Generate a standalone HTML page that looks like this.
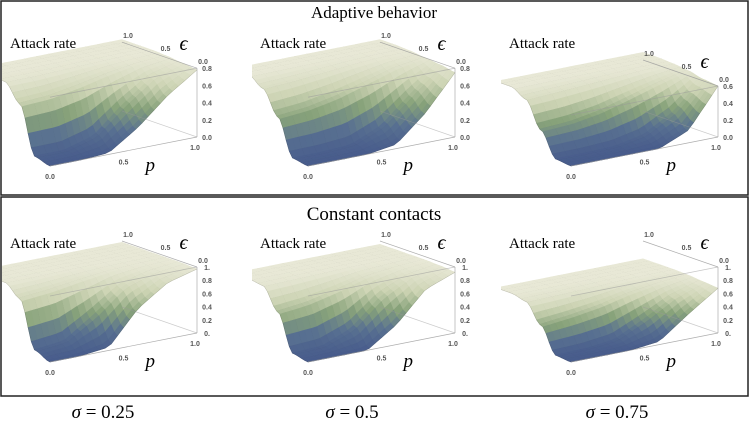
<!DOCTYPE html>
<html><head><meta charset="utf-8"><style>
html,body{margin:0;padding:0;background:#fff;}
svg{display:block;font-family:"Liberation Serif",serif;}
</style></head><body>
<svg id="fig" width="749" height="433" viewBox="0 0 749 433" xmlns="http://www.w3.org/2000/svg">
<rect x="1" y="1" width="747" height="194" fill="none" stroke="#222" stroke-width="1.5"/>
<rect x="1" y="197" width="747" height="199" fill="none" stroke="#222" stroke-width="1.5"/>
<text x="374" y="18" font-size="17" text-anchor="middle">Adaptive behavior</text>
<text x="374" y="220" font-size="19" text-anchor="middle">Constant contacts</text>
<text x="103" y="418" font-size="19" text-anchor="middle"><tspan font-style="italic">σ</tspan> = 0.25</text>
<text x="352" y="418" font-size="19" text-anchor="middle"><tspan font-style="italic">σ</tspan> = 0.5</text>
<text x="617" y="418" font-size="19" text-anchor="middle"><tspan font-style="italic">σ</tspan> = 0.75</text>
<g id="panels"></g>
</svg>
<script>
// grid axes
const pVals = [0, 0.2, 0.4, 0.6, 0.8, 1.0];
const epsVals = [0, 0.2, 0.4, 0.6, 0.8, 1.0];
// attack rate values: rows = epsilon, cols = p
const adaptive025 = [
 [0,0,0.02,0.25,0.55,0.78],
 [0.05,0.05,0.15,0.45,0.7,0.8],
 [0.6,0.62,0.68,0.75,0.8,0.82],
 [0.8,0.8,0.81,0.82,0.83,0.83],
 [0.83,0.83,0.83,0.83,0.83,0.83],
 [0.83,0.83,0.83,0.83,0.83,0.83]];
const adaptive05 = [
 [0,0,0,0.05,0.35,0.75],
 [0.03,0.03,0.05,0.2,0.5,0.78],
 [0.45,0.48,0.55,0.65,0.75,0.8],
 [0.72,0.74,0.77,0.8,0.82,0.82],
 [0.83,0.83,0.83,0.83,0.83,0.83],
 [0.83,0.83,0.83,0.83,0.83,0.83]];
const adaptive075 = [
 [0,0,0,0,0.15,0.6],
 [0.02,0.02,0.03,0.1,0.3,0.62],
 [0.3,0.32,0.38,0.48,0.58,0.66],
 [0.6,0.62,0.64,0.66,0.68,0.68],
 [0.69,0.69,0.69,0.69,0.69,0.69],
 [0.69,0.69,0.69,0.69,0.69,0.69]];
const constant025 = [
 [0,0,0.05,0.55,0.85,0.97],
 [0.1,0.15,0.45,0.8,0.93,0.98],
 [0.8,0.84,0.9,0.95,0.97,0.98],
 [0.97,0.97,0.98,0.98,0.98,0.98],
 [0.98,0.98,0.98,0.98,0.98,0.98],
 [0.98,0.98,0.98,0.98,0.98,0.98]];
const constant05 = [
 [0,0,0,0.3,0.75,0.92],
 [0.05,0.07,0.25,0.65,0.87,0.94],
 [0.6,0.65,0.75,0.87,0.92,0.95],
 [0.92,0.93,0.94,0.95,0.95,0.95],
 [0.95,0.95,0.95,0.95,0.95,0.95],
 [0.95,0.95,0.95,0.95,0.95,0.95]];
const constant075 = [
 [0,0,0,0.05,0.38,0.68],
 [0.02,0.03,0.08,0.3,0.55,0.7],
 [0.4,0.45,0.52,0.62,0.68,0.72],
 [0.68,0.69,0.7,0.72,0.73,0.73],
 [0.73,0.73,0.73,0.73,0.73,0.73],
 [0.73,0.73,0.73,0.73,0.73,0.73]];
const zTicksTop = ["0.0","0.2","0.4","0.6","0.8"];
const zTicksTop3 = ["0.0","0.2","0.4","0.6"];
const zTicksBottom = ["0.","0.2","0.4","0.6","0.8","1."];
const pTicks = ["0.0","0.5","1.0"];
const epsTicks = ["0.0","0.5","1.0"];

const panels = [
 {name:"adaptive-sigma-025", data:adaptive025, ox:50, oy:166, zs:86, zt:zTicksTop, top:true, cx:0},
 {name:"adaptive-sigma-05", data:adaptive05, ox:308, oy:166, zs:86, zt:zTicksTop, top:true, cx:250},
 {name:"adaptive-sigma-075", data:adaptive075, ox:571, oy:166, zs:85, zt:zTicksTop3, top:true, cx:499},
 {name:"constant-sigma-025", data:constant025, ox:50, oy:362, zs:66, zt:zTicksBottom, top:false, cx:0},
 {name:"constant-sigma-05", data:constant05, ox:308, oy:362, zs:66, zt:zTicksBottom, top:false, cx:250},
 {name:"constant-sigma-075", data:constant075, ox:571, oy:362, zs:66, zt:zTicksBottom, top:false, cx:499}
];
const NS="http://www.w3.org/2000/svg";
const root=document.getElementById('panels');
function mk(tag,attrs,parent){const e=document.createElementNS(NS,tag);for(const k in attrs)e.setAttribute(k,attrs[k]);parent.appendChild(e);return e;}
function smooth(t){return t*t*(3-2*t);}
function interp(data,p,e){
  const fi=p*(pVals.length-1), fj=e*(epsVals.length-1);
  const i=Math.min(Math.floor(fi),pVals.length-2), j=Math.min(Math.floor(fj),epsVals.length-2);
  const u=fi-i, v=smooth(fj-j);
  return data[j][i]*(1-u)*(1-v)+data[j][i+1]*u*(1-v)+data[j+1][i]*(1-u)*v+data[j+1][i+1]*u*v;
}
const stops=[[0,[72,92,140]],[0.25,[88,112,145]],[0.5,[135,162,122]],[0.75,[205,212,180]],[1,[232,232,214]]];
function col(t){t=Math.max(0,Math.min(1,t));for(let k=0;k<stops.length-1;k++){const a=stops[k],b=stops[k+1];if(t<=b[0]){const f=(t-a[0])/(b[0]-a[0]);return 'rgb('+a[1].map((c,i)=>Math.round(c+(b[1][i]-c)*f)).join(',')+')';}}return 'rgb(232,232,214)';}

panels.forEach((P,idx)=>{
  const g=mk('g',{},root);
  
  
  const cid='clip'+idx;
  const cp=mk('clipPath',{id:cid},g);
  mk('rect',{x:P.cx+2,y:P.top?2:198,width:247,height:P.top?192:197},cp);
  const pv=[147,-29], ev=[-75,-26];
  const proj=(p,e,z)=>[P.ox+p*pv[0]+e*ev[0], P.oy+p*pv[1]+e*ev[1]-z*P.zs];
  const zmax=Math.max(...P.data.flat());
  const zTop=(P.zt.length-1)*0.2;
  const boxLine=(a,b,w,op)=>{const ln=mk('line',{x1:a[0],y1:a[1],x2:b[0],y2:b[1],stroke:'#999','stroke-width':w,'stroke-opacity':op},g);
    };
  const sg=mk('g',{'clip-path':'url(#'+cid+')'},g);
  const N=24, quads=[];
  for(let a=0;a<N;a++)for(let b=0;b<N;b++){
    const p0=a/N,p1=(a+1)/N,e0=b/N,e1=(b+1)/N;
    const z00=interp(P.data,p0,e0),z10=interp(P.data,p1,e0),z11=interp(P.data,p1,e1),z01=interp(P.data,p0,e1);
    const pts=[proj(p0,e0,z00),proj(p1,e0,z10),proj(p1,e1,z11),proj(p0,e1,z01)];
    const depth=proj((p0+p1)/2,(e0+e1)/2,0)[1];
    quads.push({pts,depth,z:(z00+z10+z11+z01)/4,a,b});
  }
  quads.sort((x,y)=>x.depth-y.depth);
  quads.forEach(q=>{
    const c=col(q.z/zmax);
    const poly=mk('polygon',{points:q.pts.map(v=>v[0].toFixed(1)+','+v[1].toFixed(1)).join(' '),fill:c,stroke:c,'stroke-width':0.6,'stroke-linejoin':'round'},sg);
    
    
    let d='';
    if(q.a%2===0) d+='M'+q.pts[0][0].toFixed(1)+','+q.pts[0][1].toFixed(1)+'L'+q.pts[3][0].toFixed(1)+','+q.pts[3][1].toFixed(1);
    if(q.b%2===0) d+='M'+q.pts[0][0].toFixed(1)+','+q.pts[0][1].toFixed(1)+'L'+q.pts[1][0].toFixed(1)+','+q.pts[1][1].toFixed(1);
    if(d){const m=mk('path',{d:d,stroke:'rgba(60,60,60,0.3)','stroke-width':0.45,fill:'none'},sg);
      }
  });
  // translucent front-top box edge seen through surface
  boxLine(proj(0,0,zTop),proj(1,0,zTop),0.8,0.55);
  boxLine(proj(0,0,0),proj(1,0,0),0.7,0.8);
  boxLine(proj(1,0,0),proj(1,0,zTop),0.7,0.8);
  boxLine(proj(1,0,zTop),proj(1,1,zTop),0.7,0.8);
  boxLine(proj(1,0,0),proj(1,1,0),0.7,0.5);
  const tick=(x,y,s,nm)=>{const t=mk('text',{x:x,y:y,'font-size':7,'font-family':'Liberation Sans, sans-serif','font-weight':'bold',fill:'#555','text-anchor':'middle'},g);t.textContent=s;
    };
  pTicks.forEach((s,k)=>{const v=proj(k*0.5,0,0);tick(v[0]+(k==2?-2:0),v[1]+13,s,'p-tick-label');});
  epsTicks.forEach((s,k)=>{const v=proj(1,k*0.5,zTop);tick(v[0]+6,v[1]-4,s,'epsilon-tick-label');});
  P.zt.forEach((s,k)=>{const v=proj(1,0,k*0.2);tick(v[0]+10,v[1]+3,s,'z-tick-label');});
  const ar=mk('text',{x:P.cx+10,y:P.top?48:248,'font-size':15},g);ar.textContent='Attack rate';
  
  const ep=proj(1,0.5,zTop);
  const et=mk('text',{x:ep[0]+20,y:ep[1]-5,'font-size':20,'font-style':'italic'},g);et.textContent='ϵ';
  
  const pp=proj(0.65,0,0);
  const pt=mk('text',{x:pp[0],y:pp[1]+24,'font-size':19,'font-style':'italic'},g);pt.textContent='p';
  
});
</script>
</body></html>
